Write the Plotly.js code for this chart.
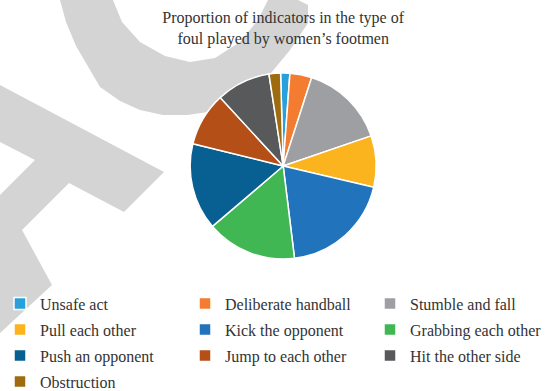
<!DOCTYPE html>
<html>
<head>
<meta charset="utf-8">
<script src="https://cdn.plot.ly/plotly-3.0.1.min.js"></script>
<style>html,body{margin:0;padding:0;background:#fff;}#chart{width:552px;height:391px;}</style>
</head>
<body>
<div id="chart"></div>
<script>
const categories = ["Unsafe act", "Deliberate handball", "Stumble and fall", "Pull each other", "Kick the opponent", "Grabbing each other", "Push an opponent", "Jump to each other", "Hit the other side", "Obstruction"];
const values = [1.6, 3.8, 14.8, 8.9, 19.4, 15.7, 15.1, 9.3, 9.4, 2.0];
const colors = ["#27a0db", "#f47c30", "#9d9fa2", "#fbb31e", "#2173bc", "#41b753", "#075f92", "#b44f17", "#58595b", "#9e6c0e"];
const titleText = "Proportion of indicators in the type of<br>foul played by women’s footmen";

const serif = "Liberation Serif, DejaVu Serif, serif";
const W = 552, H = 391, MT = 73, MB = 132;

// background watermark outline (decorative, page pixels)
const ringOutline = [[60,0],[66,22],[76,46],[100,87],[120,101],[140,110],[163,115],[187,115],[208,112],[227,107],[247,96],[263,83],[276,67],[290,50],[308,23],[308,5],[298,0],[268,0],[258,20],[240,42],[215,58],[190,62],[165,56],[140,42],[122,22],[113,0]];
const crossOutline = [[0,85],[164,172],[124,212],[69,183],[22,230],[52,285],[0,333],[0,195],[35,160],[0,142]];
function toPath(pts) {
  const ph = H - MT - MB;
  return pts.map((p, i) => (i ? "L" : "M") + (p[0] / W).toFixed(4) + "," + ((H - MB - p[1]) / ph).toFixed(4)).join(" ") + " Z";
}
const shapes = [ringOutline, crossOutline].map(pts => ({
  type: "path", xref: "paper", yref: "paper", layer: "below",
  path: toPath(pts), fillcolor: "#d4d4d4", line: {width: 0}
}));

const legendLabels = categories.map(c => '<span style="font-size:16px">' + c + '</span>');

const data = [{
  type: "pie",
  labels: legendLabels,
  values: values,
  sort: false,
  direction: "clockwise",
  rotation: -1.6,
  textinfo: "none",
  hoverinfo: "label+percent",
  marker: {colors: colors, line: {color: "#ffffff", width: 1.5}},
  domain: {x: [0.026, 1], y: [0, 1]}
}];

const layout = {
  width: W,
  height: H,
  margin: {l: 0, r: 0, t: MT, b: MB, autoexpand: false},
  paper_bgcolor: "rgba(0,0,0,0)",
  plot_bgcolor: "rgba(0,0,0,0)",
  shapes: shapes,
  title: {
    text: titleText,
    font: {family: serif, size: 16, color: "#333333"},
    x: 0.513, xanchor: "center",
    y: 0.941, yanchor: "top", yref: "container"
  },
  showlegend: true,
  legend: {
    orientation: "h",
    x: 0.0, xanchor: "left",
    y: -0.1425, yanchor: "top",
    entrywidth: 140,
    entrywidthmode: "pixels",
    bgcolor: "rgba(0,0,0,0)",
    font: {family: serif, size: 17.7, color: "#333333"},
    traceorder: "normal"
  }
};

Plotly.newPlot("chart", data, layout, {displayModeBar: false, staticPlot: true});
</script>
</body>
</html>
